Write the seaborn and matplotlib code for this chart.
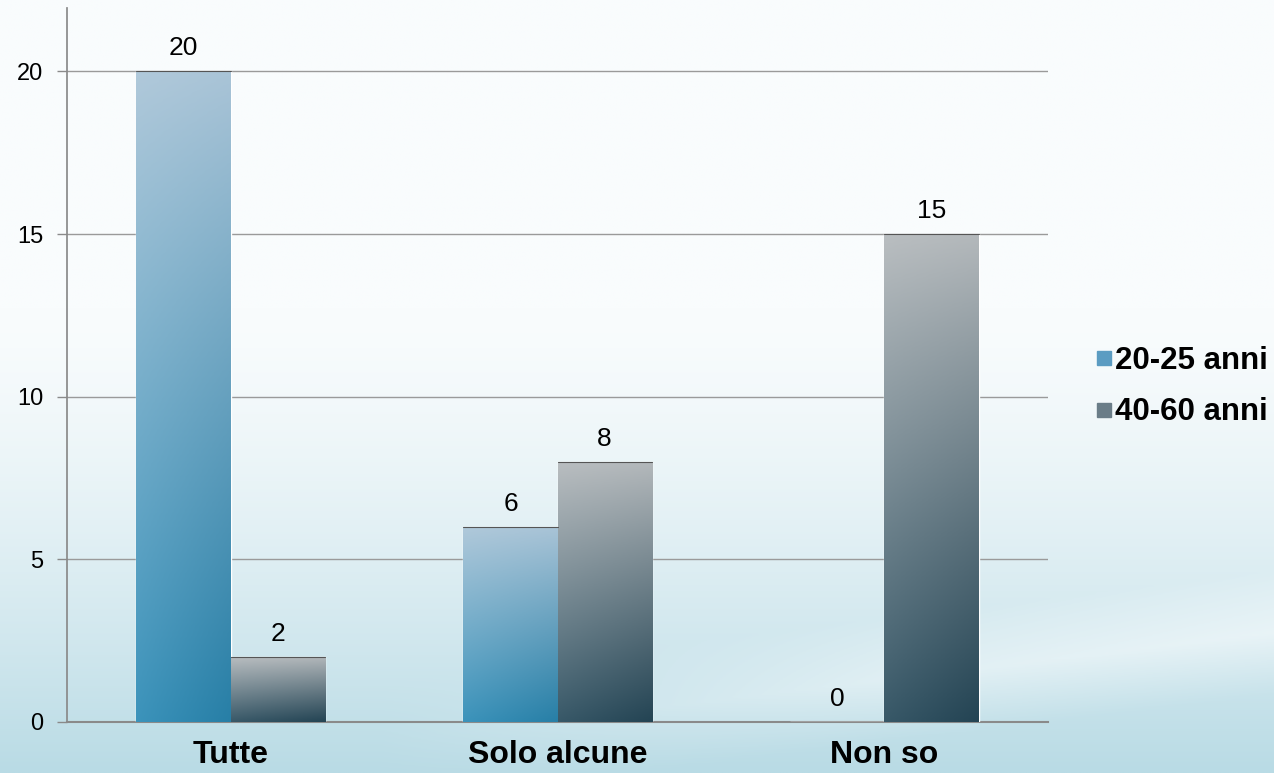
import numpy as np
import pandas as pd
import matplotlib
matplotlib.use("Agg")
import matplotlib.pyplot as plt
import seaborn as sns
from matplotlib.colors import to_rgb
from matplotlib.lines import Line2D

# --- Data ---
categories = ["Tutte", "Solo alcune", "Non so"]
groups = ["20-25 anni", "40-60 anni"]
values_young = [20, 6, 0]
values_old = [2, 8, 15]

df = pd.DataFrame({
    "categoria": categories * 2,
    "gruppo": [groups[0]] * 3 + [groups[1]] * 3,
    "valore": values_young + values_old,
})

# gradient ends per group (top, bottom)
grad = {
    groups[0]: ("#a9c4d7", "#2b8ab5"),
    groups[1]: ("#b3b8bb", "#274a5b"),
}

sns.set_theme(style="white")
plt.rcParams["font.family"] = ["Liberation Sans", "DejaVu Sans"]
plt.rcParams["text.color"] = "black"
plt.rcParams["xtick.color"] = "black"
plt.rcParams["ytick.color"] = "black"

fig = plt.figure(figsize=(12.74, 7.73), dpi=100)

# --- Background: pale gradient with light teal bottom ---
bg = fig.add_axes([0, 0, 1, 1], zorder=-5)
yy, xx = np.mgrid[0:1:300j, 0:1:400j]
top_c = np.array(to_rgb("#f9fcfd"))
bot_c = np.array(to_rgb("#b9dbe5"))
t = np.clip((yy - 0.4) / 0.6, 0, 1) ** 1.4
streak = np.clip(1 - np.abs(yy - (1.02 - 0.2 * xx)) / 0.08, 0, 1) * np.clip((xx - 0.3) / 0.4, 0, 1)
t = np.clip(t - 0.35 * streak, 0, 1)
img = top_c * (1 - t[..., None]) + bot_c * t[..., None]
bg.imshow(img, extent=[0, 1, 0, 1], aspect="auto", origin="upper")
bg.axis("off")

ax = fig.add_axes([0.0526, 0.066, 0.77, 0.9236])
ax.set_facecolor("none")

sns.barplot(data=df, x="categoria", y="valore", hue="gruppo", order=categories,
            hue_order=groups, width=0.575, gap=0, palette=["#4f9ac3", "#5c7584"],
            ax=ax, legend=False, zorder=3)

# --- Gradient fill clipped to each bar ---
for cont, g in zip(ax.containers, groups):
    c_top = np.array(to_rgb(grad[g][0]))
    c_bot = np.array(to_rgb(grad[g][1]))
    for p in cont.patches:
        x0, y0 = p.get_x(), p.get_y()
        w, h = p.get_width(), p.get_height()
        if h <= 0:
            continue
        gy, gx = np.mgrid[1:0:100j, 0:1:50j]
        tt = gy[..., None]
        col = c_bot * (1 - tt) + c_top * tt
        col = col + (1 - col) * 0.08 * (1 - gx[..., None])
        col = col * (1 - 0.08 * gx[..., None] * (1 - tt))
        im = ax.imshow(np.clip(col, 0, 1), extent=[x0, x0 + w, y0, y0 + h],
                       aspect="auto", zorder=4, origin="upper")
        im.set_clip_path(p)
        ax.plot([x0, x0 + w], [y0 + h, y0 + h], color="#555555", lw=0.8, zorder=5)
    ax.bar_label(cont, labels=[f"{v:g}" for v in cont.datavalues],
                 padding=8, fontsize=19, color="black", zorder=6)

ax.set_xlim(-0.5, 2.5)
ax.set_ylim(0, 21.95)
ax.set_yticks([0, 5, 10, 15, 20])
ax.yaxis.grid(True, color="#9a9a9a", lw=1)
ax.set_axisbelow(True)
ax.set_xlabel("")
ax.set_ylabel("")

ax.set_xticks([0, 1, 2])
ax.set_xticklabels(categories, fontsize=23, fontweight="bold")
ax.set_xticks([-0.5, 0.5, 1.5, 2.5], minor=True)
ax.tick_params(axis="x", which="major", length=0, pad=13)
ax.tick_params(axis="x", which="minor", length=9, width=1, color="#8a8a8a", direction="out")
ax.tick_params(axis="y", labelsize=17, length=7, width=1, color="#8a8a8a", left=True, pad=10)

for s in ["top", "right"]:
    ax.spines[s].set_visible(False)
ax.spines["left"].set_color("#8a8a8a")
ax.spines["bottom"].set_color("#8a8a8a")
ax.spines["bottom"].set_linewidth(1.5)

handles = [Line2D([], [], marker="s", ls="", markersize=10,
                  markerfacecolor=c, markeredgecolor=c) for c in ["#5b9cc2", "#6a7d88"]]
fig.legend(handles, groups, loc="center left", bbox_to_anchor=(0.837, 0.500),
           frameon=False, prop={"size": 22.5, "weight": "bold"},
           handletextpad=0.05, labelspacing=0.7, handlelength=0.6)

fig.savefig("out.png", dpi=100)
